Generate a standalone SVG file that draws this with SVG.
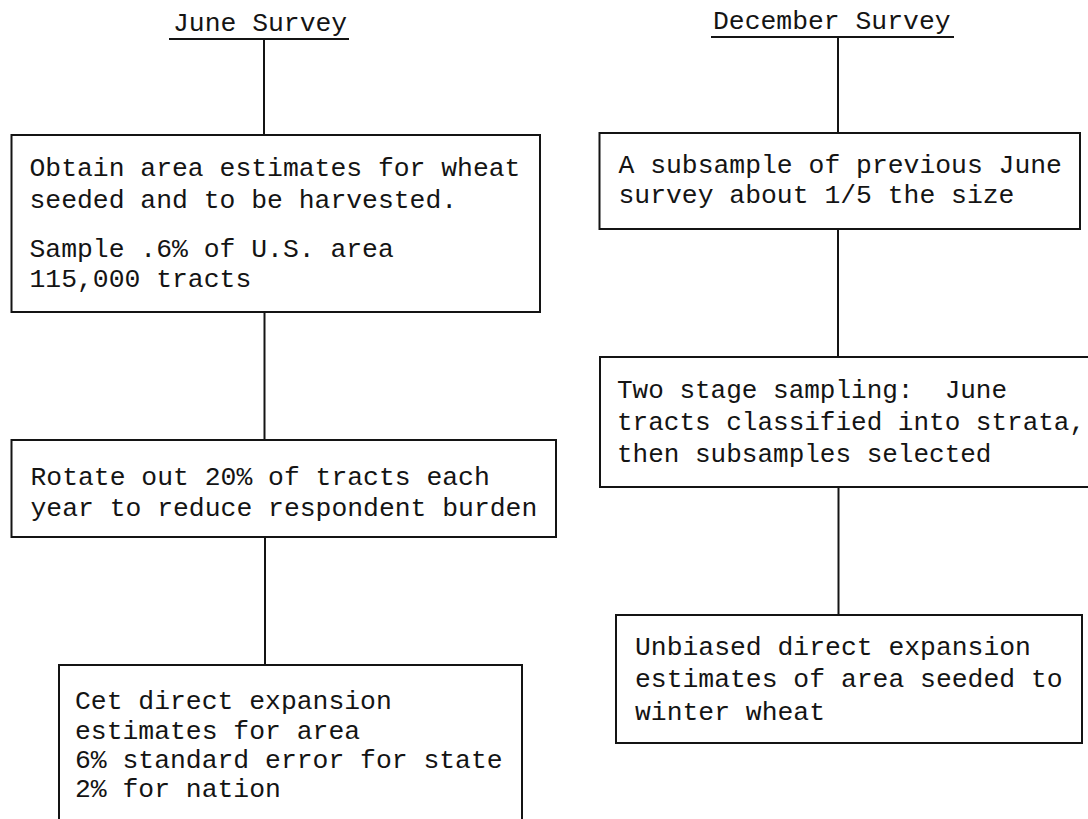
<svg xmlns="http://www.w3.org/2000/svg" width="1088" height="819" viewBox="0 0 1088 819">
<style>
.bg{fill:#ffffff}
.box{fill:none;stroke:#141414;stroke-width:2}
.ln{fill:none;stroke:#141414;stroke-width:2}
.t{font-family:"Liberation Mono","DejaVu Sans Mono",monospace;font-size:26.4px;fill:#141414;white-space:pre}
.t2{font-size:26px}
</style>
<rect class="bg" x="0" y="0" width="1088" height="819"/>
<g id="connectors">
<line class="ln" x1="264" y1="39" x2="264" y2="135"/>
<line class="ln" x1="264.5" y1="312" x2="264.5" y2="440"/>
<line class="ln" x1="265" y1="537" x2="265" y2="665"/>
<line class="ln" x1="838" y1="37" x2="838" y2="133"/>
<line class="ln" x1="838" y1="229" x2="838" y2="357"/>
<line class="ln" x1="838.5" y1="487" x2="838.5" y2="615"/>
</g>
<g id="june-header">
<text class="t" x="173" y="31">June Survey</text>
<line class="ln" x1="169" y1="39" x2="349" y2="39"/>
</g>
<g id="december-header">
<text class="t" x="713" y="29">December Survey</text>
<line class="ln" x1="711" y1="37" x2="954" y2="37"/>
</g>
<g id="june-obtain">
<rect class="box" x="11.5" y="135" width="528.5" height="177"/>
<text class="t" x="29.5" y="176">Obtain area estimates for wheat</text>
<text class="t" x="29.5" y="208">seeded and to be harvested.</text>
<text class="t" x="29.5" y="257">Sample .6% of U.S. area</text>
<text class="t" x="29.5" y="287">115,000 tracts</text>
</g>
<g id="june-rotate">
<rect class="box" x="11.5" y="440" width="544.5" height="97"/>
<text class="t" x="30.5" y="485">Rotate out 20% of tracts each</text>
<text class="t" x="30.5" y="516">year to reduce respondent burden</text>
</g>
<g id="june-estimates">
<polyline class="box" points="59,830 59,665 522,665 522,830"/>
<text class="t" x="75" y="709">Cet direct expansion</text>
<text class="t" x="75" y="739">estimates for area</text>
<text class="t" x="75" y="768">6% standard error for state</text>
<text class="t" x="75" y="797">2% for nation</text>
</g>
<g id="december-subsample">
<rect class="box" x="599.5" y="133" width="480.5" height="96"/>
<text class="t" x="618.5" y="173">A subsample of previous June</text>
<text class="t" x="618.5" y="203">survey about 1/5 the size</text>
</g>
<g id="december-two-stage">
<polyline class="box" points="1095,357 600,357 600,487 1095,487"/>
<text class="t t2" x="617" y="398" xml:space="preserve">Two stage sampling:  June</text>
<text class="t t2" x="617" y="430">tracts classified into strata,</text>
<text class="t t2" x="617" y="462">then subsamples selected</text>
</g>
<g id="december-unbiased">
<rect class="box" x="616" y="615" width="466" height="128"/>
<text class="t" x="635" y="655">Unbiased direct expansion</text>
<text class="t" x="635" y="687">estimates of area seeded to</text>
<text class="t" x="635" y="720">winter wheat</text>
</g>
</svg>
